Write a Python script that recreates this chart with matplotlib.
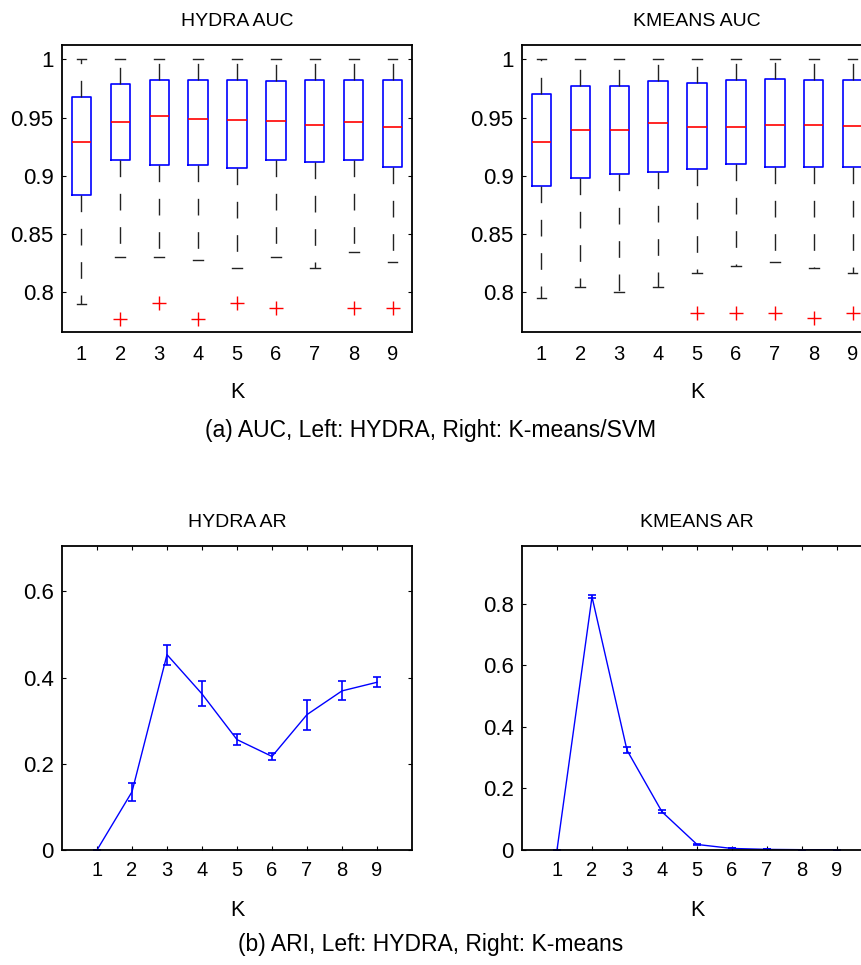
import numpy as np
import matplotlib
matplotlib.use("Agg")
import matplotlib.pyplot as plt

plt.rcParams['font.family'] = ['Liberation Sans', 'DejaVu Sans']

K = [1, 2, 3, 4, 5, 6, 7, 8, 9]

# AUC box statistics per K (whisker low, q1, median, q3, whisker high, outliers)
hydra_auc_lo = [0.790, 0.830, 0.830, 0.828, 0.821, 0.830, 0.821, 0.835, 0.826]
hydra_auc_q1 = [0.884, 0.914, 0.909, 0.909, 0.907, 0.914, 0.912, 0.914, 0.908]
hydra_auc_med = [0.929, 0.946, 0.951, 0.949, 0.948, 0.947, 0.944, 0.946, 0.942]
hydra_auc_q3 = [0.968, 0.979, 0.982, 0.982, 0.982, 0.981, 0.982, 0.982, 0.982]
hydra_auc_hi = [1.0, 1.0, 1.0, 1.0, 1.0, 1.0, 1.0, 1.0, 1.0]
hydra_auc_out = [[], [0.777], [0.791], [0.777], [0.791], [0.787], [], [0.787], [0.787]]

kmeans_auc_lo = [0.795, 0.805, 0.800, 0.805, 0.817, 0.823, 0.826, 0.821, 0.817]
kmeans_auc_q1 = [0.891, 0.898, 0.902, 0.903, 0.906, 0.910, 0.908, 0.908, 0.908]
kmeans_auc_med = [0.929, 0.939, 0.939, 0.945, 0.942, 0.942, 0.944, 0.944, 0.943]
kmeans_auc_q3 = [0.970, 0.977, 0.977, 0.981, 0.980, 0.982, 0.983, 0.982, 0.982]
kmeans_auc_hi = [1.0, 1.0, 1.0, 1.0, 1.0, 1.0, 1.0, 1.0, 1.0]
kmeans_auc_out = [[], [], [], [], [0.782], [0.782], [0.782], [0.778], [0.782]]

# adjusted Rand index, mean and error
hydra_ar = [0.0, 0.135, 0.453, 0.362, 0.256, 0.217, 0.314, 0.369, 0.389]
hydra_ar_err = [0.0, 0.021, 0.023, 0.029, 0.013, 0.008, 0.035, 0.022, 0.012]
kmeans_ar = [0.0, 0.822, 0.324, 0.124, 0.018, 0.005, 0.002, 0.001, 0.001]
kmeans_ar_err = [0.0, 0.005, 0.010, 0.005, 0.001, 0.0, 0.0, 0.0, 0.0]

W, H = 861, 965
fig = plt.figure(figsize=(W / 100, H / 100), dpi=100)


def px_axes(left, top, width, height):
    return fig.add_axes([left / W, 1 - (top + height) / H, width / W, height / H])


def style_axes(ax, xticks_visible):
    for s in ax.spines.values():
        s.set_linewidth(1.3)
    ax.tick_params(axis='both', direction='in', length=3, width=0.8,
                   top=xticks_visible, right=True, bottom=xticks_visible)
    ax.tick_params(axis='y', labelsize=16, pad=6)
    ax.set_xlabel('K', fontsize=15.5)


def draw_auc(ax, lo, q1, med, q3, hi, out, title):
    stats = []
    for i in range(len(K)):
        stats.append({'whislo': lo[i], 'q1': q1[i], 'med': med[i], 'q3': q3[i],
                      'whishi': hi[i], 'fliers': out[i]})
    ax.bxp(stats, positions=K, widths=0.5, capwidths=0.25, showfliers=True,
           boxprops=dict(color='#0000ff', linewidth=1.2),
           medianprops=dict(color='#ff0000', linewidth=1.2),
           whiskerprops=dict(color='#222222', linewidth=1.0, linestyle=(0, (12, 12))),
           capprops=dict(color='#222222', linewidth=1.0),
           flierprops=dict(marker='+', markeredgecolor='#ff0000', markersize=10,
                           markeredgewidth=1.0, linestyle='none'))
    ax.set_xlim(0.5, 9.5)
    ax.set_ylim(0.766, 1.0123)
    ax.set_yticks([0.8, 0.85, 0.9, 0.95, 1.0])
    ax.set_yticklabels(['0.8', '0.85', '0.9', '0.95', '1'])
    ax.set_xticks(K)
    ax.set_xticklabels([str(k) for k in K])
    style_axes(ax, False)
    ax.tick_params(axis='x', length=0, labelsize=14.5, pad=9.5)
    ax.xaxis.labelpad = 13
    ax.set_title(title, fontsize=14, pad=14)


def draw_ar(ax, ar, err, ymax, yticks, title):
    ax.errorbar(K, ar, yerr=err, color='#0000ff', linewidth=1.0,
                elinewidth=1.2, capsize=3, capthick=1.2)
    ax.set_xlim(0, 10)
    ax.set_ylim(0, ymax)
    ax.set_xticks(K)
    ax.set_xticklabels([str(k) for k in K])
    ax.set_yticks(yticks)
    ax.set_yticklabels(['%g' % v for v in yticks])
    style_axes(ax, True)
    ax.tick_params(axis='x', labelsize=14.5, pad=8)
    ax.xaxis.labelpad = 14
    ax.set_title(title, fontsize=14, pad=14)


ax1 = px_axes(62, 45, 350, 287)
ax2 = px_axes(522, 45, 350, 287)
ax3 = px_axes(62, 546, 350, 304)
ax4 = px_axes(522, 546, 350, 304)

draw_auc(ax1, hydra_auc_lo, hydra_auc_q1, hydra_auc_med, hydra_auc_q3,
         hydra_auc_hi, hydra_auc_out, 'HYDRA AUC')
draw_auc(ax2, kmeans_auc_lo, kmeans_auc_q1, kmeans_auc_med, kmeans_auc_q3,
         kmeans_auc_hi, kmeans_auc_out, 'KMEANS AUC')
draw_ar(ax3, hydra_ar, hydra_ar_err, 0.705, [0, 0.2, 0.4, 0.6], 'HYDRA AR')
draw_ar(ax4, kmeans_ar, kmeans_ar_err, 0.987, [0, 0.2, 0.4, 0.6, 0.8], 'KMEANS AR')

fig.text(0.5, 1 - 430 / H, '(a) AUC, Left: HYDRA, Right: K-means/SVM',
         ha='center', va='center', fontsize=16.5)
fig.text(0.5, 1 - 945 / H, '(b) ARI, Left: HYDRA, Right: K-means',
         ha='center', va='center', fontsize=16.5)

fig.savefig('out.png', dpi=100)
